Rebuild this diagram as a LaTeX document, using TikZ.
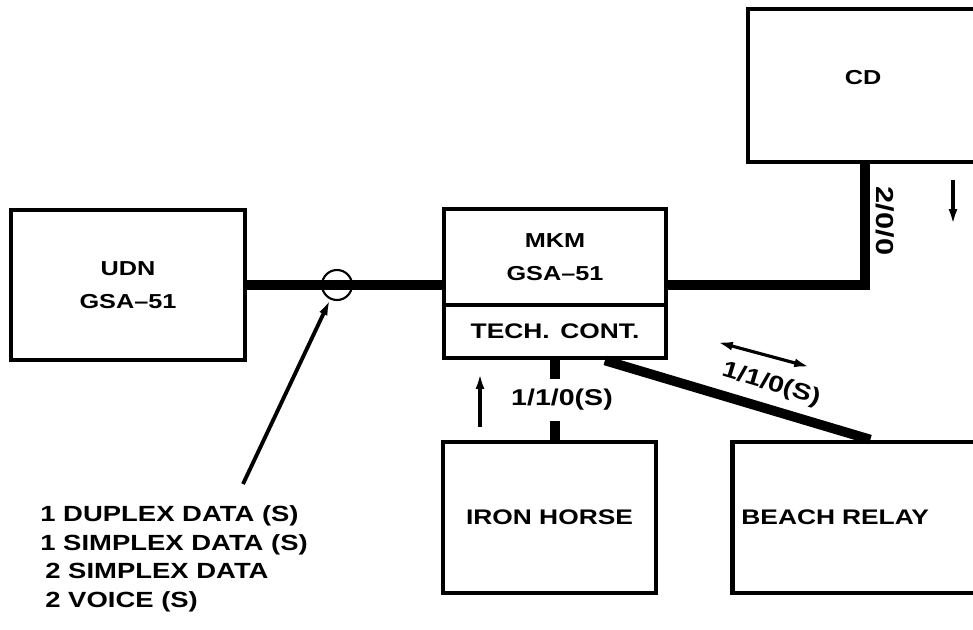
\documentclass[tikz,border=0pt]{standalone}
\usepackage{fontspec}
\setmainfont{Liberation Sans}[FakeStretch=1.25]
\usepackage{tikz}
\usetikzlibrary{arrows.meta, positioning, calc}

\begin{document}
\begin{tikzpicture}[
  x=0.02cm, y=-0.02cm,
  unitBox/.style={rectangle, draw, line width=2.8pt, inner sep=2pt, align=center, font=\bfseries\fontsize{12}{15}\selectfont},
  smallBox/.style={unitBox, font=\bfseries\fontsize{11.5}{19}\selectfont},
  trunkLine/.style={line width=5.5pt},
  flowArrow/.style={line width=1.8pt, -{Latex[length=9pt, width=5pt]}},
  rateLabel/.style={font=\bfseries\fontsize{13}{15}\selectfont, inner sep=1pt},
  noteText/.style={font=\bfseries\fontsize{12.5}{15}\selectfont, inner sep=0pt, anchor=base west},
  node distance=0cm
]
\useasboundingbox (0,0) rectangle (973,629);
\clip (0,0) rectangle (973,629);

\node[smallBox, minimum width=4.68cm, minimum height=3cm] (udn) at (128,285) {UDN\\GSA--51};
\node[smallBox, minimum width=4.44cm, minimum height=1.92cm] (mkm) at (555,257) {MKM\\GSA--51};
\node[unitBox, minimum width=4.44cm, minimum height=1.06cm, below=-2.8pt of mkm] (tech) {TECH.\enspace CONT.};
\node[smallBox, minimum width=4.6cm, minimum height=3.06cm, text depth=0.32cm] (cd) at (863,85.5) {CD};
\node[unitBox, minimum width=4.26cm, minimum height=3.02cm] (iron) at (549.5,517.5) {IRON HORSE};
\node[unitBox, minimum width=4.9cm, minimum height=3.02cm, inner xsep=0.17cm, text width=4.56cm, align=left, right=1.44cm of iron] (beach) {BEACH RELAY};

\coordinate (cdFeed) at (865,0);
\draw[trunkLine] (udn.east) -- (mkm.west |- udn.east);
\draw[trunkLine] (mkm.east |- udn.east) -| (cd.south -| cdFeed);
\draw[trunkLine] (tech.south) -- node[rateLabel, fill=white, inner ysep=0.2cm, xshift=0.14cm] (rateIron) {1/1/0(S)} (tech.south |- iron.north);
\draw[trunkLine] ($(tech.south west)!0.72!(tech.south east)$) -- node[rateLabel, sloped, above=4pt, pos=0.6] (rateBeach) {1/1/0(S)} ($(beach.north west)!0.56!(beach.north east)$);
\node[rateLabel, rotate=-90, font=\bfseries\fontsize{14}{15}\selectfont] (rateCD) at (885,221) {2/0/0};

\node[circle, draw, line width=1.2pt, minimum size=0.6cm, inner sep=0pt] (tap) at (337,285) {};

\coordinate (noteTip) at (243,484);
\coordinate (upFrom) at (480,427);
\coordinate (upTo) at (480,373);
\coordinate (downFrom) at (953,180);
\coordinate (downTo) at (953,225);
\coordinate (duplexL) at (717,342);
\coordinate (duplexR) at (810,367);
\draw[flowArrow, line width=2.2pt] (noteTip) -- (tap);
\draw[flowArrow] (upFrom) -- (upTo);
\draw[flowArrow] (downFrom) -- (downTo);
\draw[flowArrow, {Latex[length=9pt, width=5pt]}-{Latex[length=9pt, width=5pt]}] (duplexL) -- (duplexR);

\node[noteText] (item1) at (40,521) {1 DUPLEX DATA (S)};
\node[noteText] (item2) at (40,550) {1 SIMPLEX DATA (S)};
\node[noteText] (item3) at (45,578) {2 SIMPLEX DATA};
\node[noteText] (item4) at (45,607) {2 VOICE (S)};
\end{tikzpicture}
\end{document}
